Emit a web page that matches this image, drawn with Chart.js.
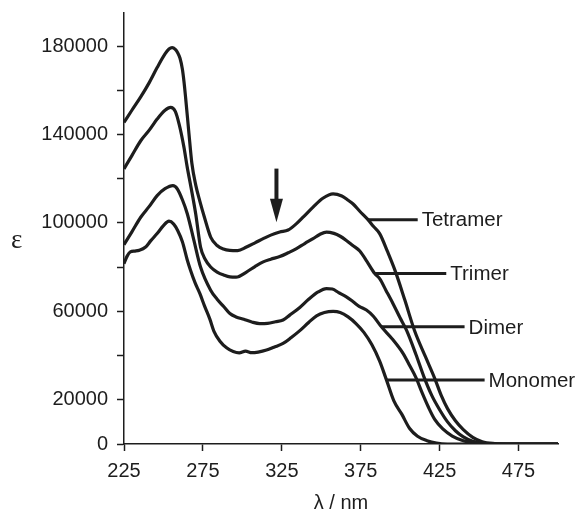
<!DOCTYPE html>
<html>
<head>
<meta charset="utf-8">
<script src="https://cdn.jsdelivr.net/npm/chart.js@4.4.1/dist/chart.umd.min.js"></script>
<style>
  html, body { margin: 0; padding: 0; background: #fff; }
  canvas { display: block; }
</style>
</head>
<body>
<canvas id="spectraChart" width="579" height="512"></canvas>
<script>
// wavelengths (nm) and epsilon values
const tetramerX = [225, 230, 236, 241, 246, 251, 253.5, 255.5, 257.5, 259, 260.5, 262, 263, 264, 266, 268, 270.5, 273, 276, 280, 284, 288, 292, 297, 302.6, 308, 313.2, 318, 323.7, 329, 334.3, 339, 344.8, 351, 357.5, 363, 367, 370, 374.4, 379.6, 383, 387, 392, 397, 403, 409, 416, 422, 426, 430, 435, 440, 446, 452, 460, 470, 485, 500];
const tetramerY = [145500, 151000, 157500, 163500, 170300, 176500, 178700, 179300, 178500, 177000, 174500, 169500, 164000, 157000, 141700, 127000, 117000, 110000, 102500, 93500, 89800, 88200, 87600, 87500, 89100, 91000, 92900, 94500, 95900, 96800, 99700, 103000, 107200, 111200, 113200, 112200, 110300, 108700, 105300, 101500, 98500, 95200, 87000, 78000, 65000, 51500, 39500, 29500, 22000, 16000, 10500, 6500, 3000, 1000, 200, 0, 0, 0];

const trimerX = [225, 230, 235.6, 241, 246, 251, 254.5, 257.5, 260, 263, 265, 267.5, 270.4, 273.5, 276.5, 279.9, 284, 288.3, 292.1, 296, 302.6, 308, 313.2, 318, 323.7, 329, 334.3, 339.5, 344.8, 349, 353.3, 358, 362, 365.9, 370, 374.4, 379, 383.9, 387, 391, 395.4, 400, 404, 410, 415, 420, 425, 430, 435, 440, 446, 453, 462, 475, 500];
const trimerY = [124500, 130500, 137200, 142000, 147000, 151000, 152300, 150500, 144500, 134200, 125500, 116000, 104300, 89100, 83500, 80100, 77800, 76400, 75600, 75500, 77800, 80300, 82400, 83600, 84800, 86500, 88400, 90700, 92900, 94800, 95900, 95300, 94000, 92100, 89800, 87300, 82500, 77100, 74800, 69500, 63600, 57000, 51500, 40500, 30500, 22000, 15500, 10000, 6000, 3200, 1200, 300, 0, 0, 0];

const dimerX = [225, 230, 235.6, 241, 246, 251, 256, 258.7, 262, 265.1, 269.3, 273.5, 279.9, 284, 288.3, 292.1, 296, 300.9, 306, 311, 316, 321, 325.8, 330, 336.4, 342, 348, 353.3, 357, 361, 365.9, 370, 374, 378.6, 383, 388.1, 395, 401.8, 406, 410, 414, 418, 422, 427, 433, 440, 448, 455, 475, 500];
const dimerY = [90200, 96000, 102600, 107500, 112400, 115500, 116900, 115500, 110500, 104200, 92100, 80100, 69600, 65500, 62100, 59000, 57500, 56400, 55200, 54500, 54600, 55300, 56100, 58300, 61800, 65500, 68800, 70300, 70100, 68500, 66600, 64500, 62300, 60600, 57800, 53000, 47500, 41000, 35500, 30000, 23000, 16500, 11000, 6800, 3600, 1500, 400, 0, 0, 0];

const monomerX = [225, 227, 229, 232, 234.5, 238.7, 242, 246, 250, 253.5, 256.5, 259, 262, 265, 267.2, 270, 273.1, 276, 279.4, 282, 285.8, 290, 294.2, 298, 302, 306, 310, 315.3, 320, 325.8, 331, 336.4, 342, 347, 352, 357.5, 362, 367, 372, 377, 382, 387, 391.3, 396, 401, 406, 411, 417, 423, 430, 475, 500];
const monomerY = [81600, 85000, 86900, 87300, 87600, 89100, 92000, 95200, 98800, 100800, 99500, 96600, 91500, 83500, 78500, 73000, 68000, 62500, 56500, 51000, 46500, 43500, 41800, 41200, 42000, 41300, 41600, 42500, 43800, 45500, 48200, 51300, 55000, 58000, 59500, 60000, 59500, 57500, 54500, 50500, 45000, 37500, 29000, 19500, 13500, 7000, 3500, 1500, 400, 0, 0, 0];

const xTicks = [225, 275, 325, 375, 425, 475];
const yTicks = [0, 20000, 40000, 60000, 80000, 100000, 120000, 140000, 160000, 180000];
const yLabels = [0, 20000, 60000, 100000, 140000, 180000];

// leader lines for the curve names (nm / epsilon)
const seriesNames = ['Tetramer', 'Trimer', 'Dimer', 'Monomer'];
const leaderY = [101500, 77100, 53000, 29000];
const leaderStart = [379.6, 383.9, 388.1, 391.3];
const leaderEnd = [411.1, 429.2, 440.8, 453.5];

// arrow over the 325 nm shoulder
const arrowX = 321.6;
const arrowTop = 124600;
const arrowHeadBase = 111000;
const arrowTip = 100300;

const ink = '#1d1d1d';
const fontFamily = '"Liberation Sans", Arial, Helvetica, sans-serif';

function toPoints(xs, ys) {
  return xs.map((x, i) => ({ x: x, y: ys[i] }));
}

function makeDataset(label, xs, ys) {
  return {
    label: label,
    data: toPoints(xs, ys),
    borderColor: ink,
    borderWidth: 3.2,
    pointRadius: 0,
    fill: false,
    cubicInterpolationMode: 'monotone',
    tension: 0.4
  };
}

const annotations = {
  id: 'annotations',
  afterDatasetsDraw(chart) {
    const ctx = chart.ctx;
    const xs = chart.scales.x;
    const ys = chart.scales.y;
    ctx.save();
    ctx.strokeStyle = ink;
    ctx.fillStyle = ink;
    ctx.lineWidth = 3;
    ctx.font = `20.5px ${fontFamily}`;
    ctx.textAlign = 'left';
    ctx.textBaseline = 'middle';

    seriesNames.forEach((name, i) => {
      const py = ys.getPixelForValue(leaderY[i]);
      const x0 = xs.getPixelForValue(leaderStart[i]);
      const x1 = xs.getPixelForValue(leaderEnd[i]);
      ctx.beginPath();
      ctx.moveTo(x0, py);
      ctx.lineTo(x1, py);
      ctx.stroke();
      ctx.fillText(name, x1 + 4, py + 1);
    });

    // arrow
    const ax = xs.getPixelForValue(arrowX);
    const aTop = ys.getPixelForValue(arrowTop);
    const aBase = ys.getPixelForValue(arrowHeadBase);
    const aTip = ys.getPixelForValue(arrowTip);
    ctx.lineWidth = 4;
    ctx.beginPath();
    ctx.moveTo(ax, aTop);
    ctx.lineTo(ax, aBase + 2);
    ctx.stroke();
    ctx.beginPath();
    ctx.moveTo(ax - 6.5, aBase);
    ctx.lineTo(ax + 6.5, aBase);
    ctx.lineTo(ax, aTip);
    ctx.closePath();
    ctx.fill();

    // y axis symbol, upright
    const area = chart.chartArea;
    ctx.font = '27px "Liberation Serif", "Times New Roman", serif';
    ctx.fillText('ε', 11, (area.top + area.bottom) / 2 + 12);
    ctx.restore();
  }
};

function initChart() {
  const canvas = document.getElementById('spectraChart');
  const ctx = canvas.getContext('2d');
  Chart.defaults.font.family = fontFamily;
  Chart.defaults.color = ink;

  return new Chart(ctx, {
    type: 'line',
    data: {
      datasets: [
        makeDataset('Tetramer', tetramerX, tetramerY),
        makeDataset('Trimer', trimerX, trimerY),
        makeDataset('Dimer', dimerX, dimerY),
        makeDataset('Monomer', monomerX, monomerY)
      ]
    },
    options: {
      responsive: false,
      animation: false,
      layout: { padding: { top: 13, right: 21, left: 0, bottom: 0 } },
      plugins: {
        legend: { display: false },
        tooltip: { enabled: false }
      },
      scales: {
        x: {
          type: 'linear',
          min: 225,
          max: 500,
          afterBuildTicks: scale => { scale.ticks = xTicks.map(v => ({ value: v })); },
          afterFit: scale => {
            scale.height = 68;
            scale.paddingLeft = 0;
            scale.paddingRight = 0;
          },
          grid: { drawOnChartArea: false, drawTicks: true, tickLength: 7, tickWidth: 1.5, tickColor: ink },
          border: { display: true, color: ink, width: 1.5 },
          ticks: { color: ink, font: { size: 20 }, padding: 8, maxRotation: 0, autoSkip: false },
          title: { display: true, text: 'λ / nm', color: ink, font: { size: 20, lineHeight: 0.9 }, padding: 0 }
        },
        y: {
          type: 'linear',
          min: 0,
          max: 195000,
          afterBuildTicks: scale => { scale.ticks = yTicks.map(v => ({ value: v })); },
          afterFit: scale => {
            scale.width = 124;
            scale.paddingTop = 0;
            scale.paddingBottom = 0;
          },
          grid: { drawOnChartArea: false, drawTicks: true, tickLength: 7, tickWidth: 1.5, tickColor: ink },
          border: { display: true, color: ink, width: 1.5 },
          ticks: {
            color: ink,
            font: { size: 20 },
            padding: 9,
            autoSkip: false,
            callback: val => yLabels.includes(val) ? String(val) : ''
          }
        }
      }
    },
    plugins: [annotations]
  });
}

initChart();
</script>
</body>
</html>
